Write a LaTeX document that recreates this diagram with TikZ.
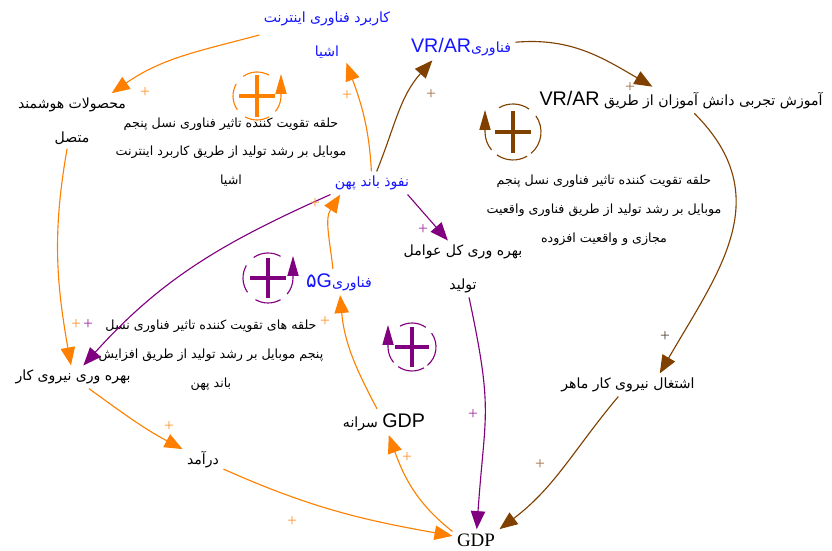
\documentclass[tikz,border=0pt]{standalone}
\usepackage{fontspec}
\setmainfont{Liberation Serif}
\newfontfamily\farsifont[Script=Arabic]{DejaVu Sans}
\newfontfamily\latinfont{Liberation Sans}
\TeXXeTstate=1
\usepackage{tikz}
\usetikzlibrary{arrows.meta,positioning}
\newcommand{\faline}[1]{\beginR #1\endR}
\newcommand{\enword}[1]{\beginL{\latinfont\fontsize{14}{14}\selectfont #1}\endL}
\definecolor{varblue}{RGB}{20,20,255}
\definecolor{loorange}{RGB}{255,128,0}
\definecolor{lobrown}{RGB}{128,64,0}
\definecolor{lopurple}{RGB}{128,0,128}
\definecolor{polorange}{RGB}{255,150,50}
\definecolor{polbrown}{RGB}{160,110,70}
\definecolor{polpurple}{RGB}{160,50,160}
\definecolor{polgray}{RGB}{90,75,60}

\begin{document}
\begin{tikzpicture}[
  x=0.25mm, y=0.25mm,
  var/.style={font=\farsifont\fontsize{10}{24}\selectfont, align=center, inner sep=3pt},
  bvar/.style={var, text=varblue},
  note/.style={font=\farsifont\fontsize{9}{20.5}\selectfont, align=center, inner sep=1pt},
  pol/.style={font=\fontsize{12.5}{12.5}\selectfont, inner sep=0pt},
  arr/.style={-{Triangle[length=4.5mm,width=3.6mm]}, line width=0.8pt},
  ring/.style={line width=0.8pt},
  ringarr/.style={-{Triangle[length=5mm,width=2.8mm]}, line width=0.8pt},
  cross/.style={line width=2.2pt}
]
\useasboundingbox (0,0) rectangle (832,551);
% --- variables ---
\node[bvar] (iot) at (327,516) {\faline{کاربرد فناوری اینترنت}\\\faline{اشیا}};
\node[bvar] (vrar) at (461,504) {\faline{فناوری\enword{VR/AR}}};
\node[var] (smart) at (72,430) {\faline{محصولات هوشمند}\\\faline{متصل}};
\node[var] (edu) at (681,451) {\faline{آموزش تجربی دانش آموزان از طریق \enword{VR/AR}}};
\node[bvar] (bb) at (372,368) {\faline{نفوذ باند پهن}};
\node[var] (tfp) at (463,282) {\faline{بهره وری کل عوامل}\\\faline{تولید}};
\node[bvar] (g5) at (339,269) {\faline{فناوری\beginL{\fontsize{14}{14}\selectfont ۵}{\latinfont\fontsize{14}{14}\selectfont G}\endL}};
\node[var] (lab) at (73,174) {\faline{بهره وری نیروی کار}};
\node[var] (gdppc) at (384,129) {\faline{\enword{GDP} سرانه}};
\node[var] (emp) at (628,166) {\faline{اشتغال نیروی کار ماهر}};
\node[var] (inc) at (203,91) {\faline{درآمد}};
\node[var, font=\fontsize{13.5}{14}\selectfont] (gdp) at (476,11) {GDP};
% --- loop notes ---
\node[note] (l1) at (231,399) {\faline{حلقه تقویت کننده تاثیر فناوری نسل پنجم}\\
  \faline{موبایل بر رشد تولید از طریق کاربرد اینترنت}\\\faline{اشیا}};
\node[note] (l2) at (604,341) {\faline{حلقه تقویت کننده تاثیر فناوری نسل پنجم}\\
  \faline{موبایل بر رشد تولید از طریق فناوری واقعیت}\\\faline{مجازی و واقعیت افزوده}};
\node[note] (l3) at (211,196) {\faline{حلقه های تقویت کننده تاثیر فناوری نسل}\\
  \faline{پنجم موبایل بر رشد تولید از طریق افزایش}\\\faline{باند پهن}};
% --- loop symbols ---
\coordinate (r1) at (257,455);
\coordinate (r2) at (513,419);
\coordinate (r3) at (268,273);
\coordinate (r4) at (412,204);
\draw[ring, loorange] (r1) ++(60:24) arc(60:125:24) (r1) ++(150:24) arc(150:215:24)
  (r1) ++(240:24) arc(240:300:24);
\draw[ringarr, loorange] (r1) ++(320:24) arc(320:360:24) -- ++(0,22);
\draw[cross, loorange] (r1) ++(-18,0) -- ++(36,0) (r1) ++(0,-21) -- ++(0,42);
\draw[ring, lobrown] (r2) ++(55:28) arc(55:120:28) (r2) ++(-50:28) arc(-50:35:28)
  (r2) ++(235:28) arc(235:300:28);
\draw[ringarr, lobrown] (r2) ++(220:28) arc(220:180:28) -- ++(0,22);
\draw[cross, lobrown] (r2) ++(-18,0) -- ++(36,0) (r2) ++(0,-21) -- ++(0,42);
\draw[ring, lopurple] (r3) ++(60:25) arc(60:125:25) (r3) ++(150:25) arc(150:215:25)
  (r3) ++(240:25) arc(240:300:25);
\draw[ringarr, lopurple] (r3) ++(320:25) arc(320:360:25) -- ++(0,22);
\draw[cross, lopurple] (r3) ++(-18,0) -- ++(36,0) (r3) ++(0,-20) -- ++(0,40);
\draw[ring, lopurple] (r4) ++(55:24) arc(55:120:24) (r4) ++(-50:24) arc(-50:35:24)
  (r4) ++(235:24) arc(235:300:24);
\draw[ringarr, lopurple] (r4) ++(220:24) arc(220:180:24) -- ++(0,22);
\draw[cross, lopurple] (r4) ++(-17,0) -- ++(34,0) (r4) ++(0,-20) -- ++(0,40);
% --- links ---
\draw[arr, loorange] (iot.west) to[out=195,in=35] (smart);
\draw[arr, loorange] (bb) to[out=93,in=290] (iot.-55);
\draw[arr, lobrown] (bb) to[out=68,in=228] (vrar.205);
\draw[arr, lobrown] (vrar) to[out=5,in=150] (edu.155);
\draw[arr, lobrown] (edu) to[out=-45,in=60,looseness=1.15] (emp.20);
\draw[arr, lobrown] (emp) to[out=230,in=37] (gdp.north east);
\draw[arr, lopurple] (tfp) to[out=-78,in=86,looseness=1.3] (gdp);
\draw[arr, lopurple] (bb.-18) -- (tfp.118);
\draw[arr, lopurple] (bb.south west) to[out=204,in=48] (lab);
\draw[arr, loorange] (smart) to[out=260,in=100] (lab);
\draw[arr, loorange] (lab) to[out=-36,in=152] (inc);
\draw[arr, loorange] (inc) to[out=-24,in=170] (gdp);
\draw[arr, loorange] (gdp.160) to[out=142,in=290] (gdppc);
\draw[arr, loorange] (gdppc) to[out=118,in=275] (g5);
\draw[arr, loorange] (g5.115) to[out=96,in=237] (bb.200);
% --- polarities ---
\node[pol, text=polorange] (p1) at (145,458) {+};
\node[pol, text=polorange] (p2) at (347,455) {+};
\node[pol, text=polbrown] (p3) at (431,456) {+};
\node[pol, text=polbrown] (p4) at (630,463) {+};
\node[pol, text=polgray] (p5) at (665,214) {+};
\node[pol, text=polbrown] (p6) at (540,86) {+};
\node[pol, text=polpurple] (p7) at (473,136) {+};
\node[pol, text=polpurple] (p8) at (423,321) {+};
\node[pol, text=polpurple] (p9) at (88,226) {+};
\node[pol, text=polorange] (p10) at (76,226) {+};
\node[pol, text=polorange] (p11) at (169,124) {+};
\node[pol, text=polorange] (p12) at (292,29) {+};
\node[pol, text=polorange] (p13) at (407,93) {+};
\node[pol, text=polorange] (p14) at (325,229) {+};
\node[pol, text=polorange] (p15) at (315,347) {+};
\end{tikzpicture}
\end{document}
